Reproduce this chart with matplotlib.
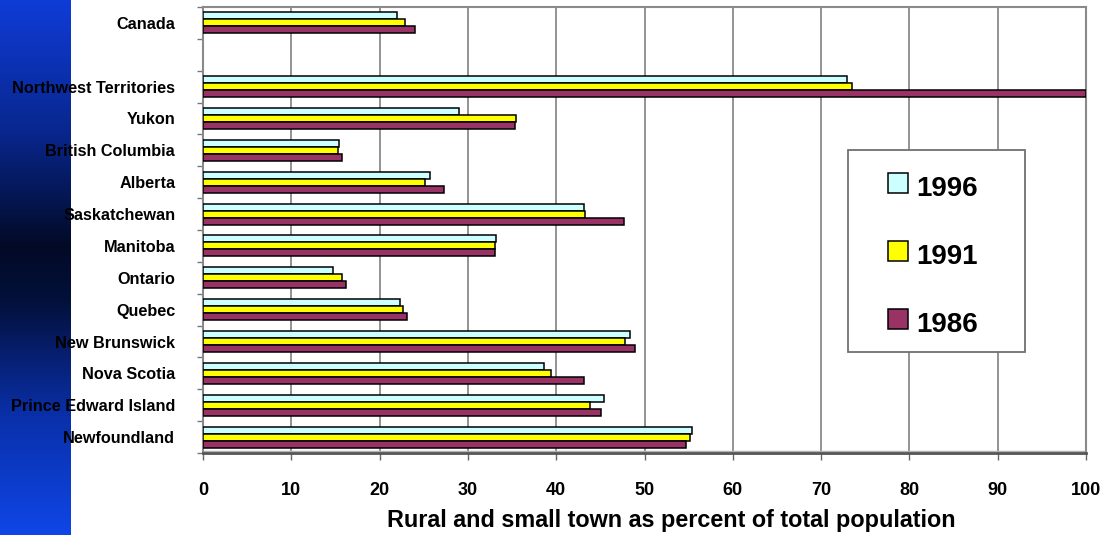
import numpy as np
import matplotlib
matplotlib.use("Agg")
import matplotlib.pyplot as plt
from matplotlib.patches import Rectangle
from matplotlib.colors import LinearSegmentedColormap
from matplotlib.ticker import FixedLocator, NullFormatter

plt.rcParams['font.family'] = ['Liberation Sans', 'DejaVu Sans']

# Regions, bottom to top; Canada sits apart at the top after an empty slot
regions = ["Newfoundland", "Prince Edward Island", "Nova Scotia", "New Brunswick",
           "Quebec", "Ontario", "Manitoba", "Saskatchewan", "Alberta",
           "British Columbia", "Yukon", "Northwest Territories", "Canada"]
slots = [0, 1, 2, 3, 4, 5, 6, 7, 8, 9, 10, 11, 13]

years = ["1996", "1991", "1986"]
pct_1996 = [55.4, 45.4, 38.6, 48.4, 22.3, 14.7, 33.2, 43.1, 25.7, 15.4, 29.0, 72.9, 22.0]
pct_1991 = [55.2, 43.8, 39.4, 47.8, 22.7, 15.7, 33.1, 43.3, 25.1, 15.3, 35.4, 73.5, 22.9]
pct_1986 = [54.7, 45.1, 43.1, 48.9, 23.1, 16.2, 33.1, 47.7, 27.3, 15.7, 35.3, 100.0, 24.0]
series = [pct_1996, pct_1991, pct_1986]
colors = ["#ccffff", "#ffff00", "#993366"]

x_ticks = list(range(0, 101, 10))
x_label = "Rural and small town as percent of total population"

fig = plt.figure(figsize=(11, 5.35), dpi=100)

# Blue gradient strip down the left edge
strip = fig.add_axes([0, 0, 71 / 1100, 1])
grad_cmap = LinearSegmentedColormap.from_list("strip", [
    (0.00, (15 / 255, 60 / 255, 215 / 255)),
    (0.25, (8 / 255, 38 / 255, 140 / 255)),
    (0.46, (2 / 255, 10 / 255, 38 / 255)),
    (0.56, (3 / 255, 16 / 255, 58 / 255)),
    (0.78, (10 / 255, 48 / 255, 170 / 255)),
    (1.00, (15 / 255, 70 / 255, 230 / 255)),
])
strip.imshow(np.linspace(0, 1, 256).reshape(-1, 1), aspect="auto", cmap=grad_cmap,
             extent=[0, 1, 1, 0])
strip.set_axis_off()

ax = fig.add_axes([203 / 1100, 82 / 535, 883 / 1100, 446 / 535])
ax.set_xlim(0, 100)
ax.set_ylim(-0.5, 13.5)

bar_h = 0.22
offsets = [bar_h, 0.0, -bar_h]
y = np.array(slots, dtype=float)
for vals, col, off, yr in zip(series, colors, offsets, years):
    ax.barh(y + off, vals, height=bar_h, color=col, edgecolor="black",
            linewidth=1.1, zorder=3, label=yr)

# Vertical gridlines
for xv in x_ticks[1:-1]:
    ax.axvline(xv, color="#8a8a8a", lw=1.3, zorder=1)

# Frame
for side in ["top", "right", "left"]:
    ax.spines[side].set_color("#8a8a8a")
    ax.spines[side].set_linewidth(1.5)
ax.spines["bottom"].set_color("#555555")
ax.spines["bottom"].set_linewidth(2.0)
ax.axhline(-0.45, color="#b0b0b0", lw=1.0, zorder=2)

# X axis
ax.set_xticks(x_ticks)
ax.set_xticklabels([str(v) for v in x_ticks], fontsize=13, fontweight="bold")
ax.tick_params(axis="x", direction="out", length=5, width=1, color="#666666", pad=16)
ax.set_xlabel(x_label, fontsize=16.8, fontweight="bold")
ax.xaxis.set_label_coords(0.53, -0.125)

# Y axis: ticks on slot boundaries, labels on slot centres
ax.yaxis.set_major_locator(FixedLocator(np.arange(-0.5, 14, 1.0)))
ax.yaxis.set_major_formatter(NullFormatter())
ax.tick_params(axis="y", which="major", direction="out", length=4, width=1, color="#777777")
ax.set_yticks(slots, minor=True)
ax.set_yticklabels(regions, minor=True, fontsize=11.7, fontweight="bold",
                   va="center_baseline")
ax.tick_params(axis="y", which="minor", length=0, pad=20)

# Legend box drawn on the figure
fig.patches.append(Rectangle((848 / 1100, 1 - 352 / 535), 177 / 1100, 202 / 535,
                             transform=fig.transFigure, facecolor="white",
                             edgecolor="#707070", lw=1.3, zorder=5))
row_y = [183, 251, 319]
for yr, col, ry in zip(years, colors, row_y):
    fig.patches.append(Rectangle((888 / 1100, 1 - (ry + 10) / 535), 20 / 1100, 20 / 535,
                                 transform=fig.transFigure, facecolor=col,
                                 edgecolor="black", lw=1.1, zorder=6))
    fig.text(916 / 1100, 1 - (ry + 6) / 535, yr, fontsize=20, fontweight="bold",
             ha="left", va="center", zorder=7)

fig.savefig("out.png", dpi=100)
